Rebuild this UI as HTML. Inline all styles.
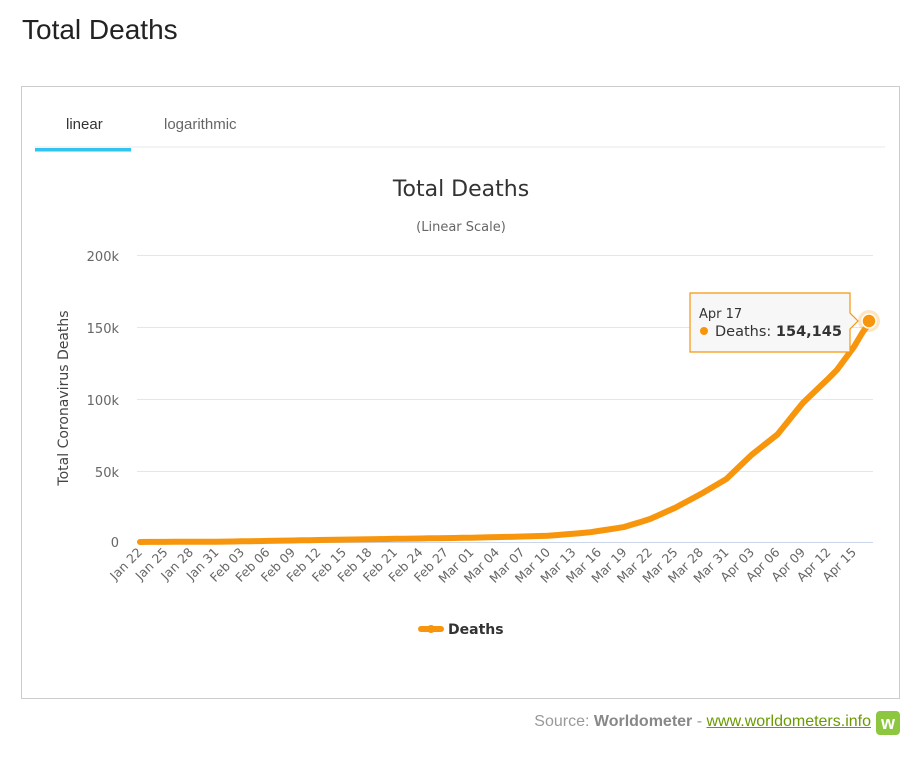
<!DOCTYPE html>
<html><head><meta charset="utf-8"><style>
html,body{margin:0;padding:0;background:#fff;width:913px;height:763px;overflow:hidden;font-family:"Liberation Sans",Arial,sans-serif}
#t{position:absolute;left:22px;top:14px;font-size:28px;color:#222}
#box{position:absolute;left:21px;top:86px;width:877px;height:611px;border:1px solid #ccc}
#src{position:absolute;right:42px;top:713px;font-size:16px;color:#999}
#src b{color:#888}
#src a{color:#6a9a00;text-decoration:underline}
#logo{position:absolute;left:876px;top:711px;width:24px;height:24px;background:#8dc63f;border-radius:4px;color:#fff;font-weight:bold;font-size:18px;text-align:center;line-height:24px}
svg{position:absolute;left:0;top:0}
</style></head><body>
<div id="t">Total Deaths</div>
<div id="box"></div>
<svg width="913" height="763" id="s" font-family="'DejaVu Sans',sans-serif">
<text x="66" y="129" font-family="Liberation Sans" font-size="15" fill="#333">linear</text>
<text x="164" y="129" font-family="Liberation Sans" font-size="15" fill="#666">logarithmic</text>
<line x1="35" y1="147" x2="885" y2="147" stroke="#e8e8e8" stroke-width="1"/>
<rect x="35" y="148" width="96" height="3.5" fill="#33c3f0"/>
<text x="461" y="196" text-anchor="middle" font-size="22" fill="#333">Total Deaths</text>
<text x="461" y="231" text-anchor="middle" font-size="13" fill="#666">(Linear Scale)</text>
<g stroke="#e6e6e6" stroke-width="1">
<line x1="137" y1="255.5" x2="873" y2="255.5"/><line x1="137" y1="327.5" x2="873" y2="327.5"/>
<line x1="137" y1="399.5" x2="873" y2="399.5"/><line x1="137" y1="471.5" x2="873" y2="471.5"/>
</g>
<line x1="137" y1="542.5" x2="873" y2="542.5" stroke="#ccd6eb"/>
<g font-size="13" fill="#666" text-anchor="end">
<text x="119" y="261">200k</text><text x="119" y="333">150k</text><text x="119" y="405">100k</text><text x="119" y="477">50k</text><text x="119" y="547">0</text>
</g>
<text transform="translate(68,398) rotate(-90)" text-anchor="middle" font-size="14" fill="#444">Total Coronavirus Deaths</text>
<g id="xl" font-size="12.5" fill="#666"></g>
<polyline id="ln" fill="none" stroke="#f7960c" stroke-width="6" stroke-linejoin="round" stroke-linecap="round"/>
<circle cx="869" cy="321" r="11" fill="#f7960c" opacity="0.25"/>
<circle cx="869" cy="321" r="7" fill="#f7960c" stroke="#fff" stroke-width="1.5"/>
<path d="M690,293 H850 V313 L858,321 L850,329 V352 H690 Z" fill="#f7f7f7" stroke="#f7960c" stroke-width="1.2"/>
<text x="699" y="318" font-size="13" fill="#333">Apr 17</text>
<circle cx="704" cy="331" r="4" fill="#f7960c"/>
<text x="715" y="336" font-size="14.5" fill="#333">Deaths: <tspan font-weight="bold">154,145</tspan></text>
<line x1="421" y1="629" x2="441" y2="629" stroke="#f7960c" stroke-width="6" stroke-linecap="round"/>
<circle cx="431" cy="629" r="4" fill="#f7960c"/>
<text x="448" y="634" font-size="14" font-weight="bold" fill="#333">Deaths</text>
</svg>
<div id="src">Source: <b>Worldometer</b> - <a>www.worldometers.info</a></div>
<div id="logo">w</div>
<script>
var keys=[[0,17],[10,259],[24,1666],[39,2996],[48,4300],[53,6800],[57,10500],[60,16000],[63,24000],[66,33500],[69,44000],[72,61000],[75,75000],[78,97000],[81,114000],[82,120000],[84,136000],[85,146000],[86,154145]];
var pts=[];
for(var i=0;i<=86;i++){var k=0;while(k<keys.length-1&&keys[k+1][0]<i)k++;var a=keys[k],b=keys[Math.min(k+1,keys.length-1)];var v=a[0]==b[0]?a[1]:a[1]+(b[1]-a[1])*(i-a[0])/(b[0]-a[0]);if(i==a[0])v=a[1];
pts.push((140+8.5*i).toFixed(1)+","+(542-v*287/200000).toFixed(1));}
document.getElementById("ln").setAttribute("points",pts.join(" "));
var m=["Jan","Feb","Mar","Apr"],ml=[31,29,31,30],mo=0,d=22,g=document.getElementById("xl"),h="";
for(var i=0;i<=86;i++){if(i%3==0){var x=140+8.5*i;h+='<text transform="translate('+(x+3)+',553) rotate(-45)" text-anchor="end">'+m[mo]+" "+(d<10?"0"+d:d)+"</text>";}
d++;if(d>ml[mo]){d=1;mo++;}}
g.innerHTML=h;
</script>
</body></html>
